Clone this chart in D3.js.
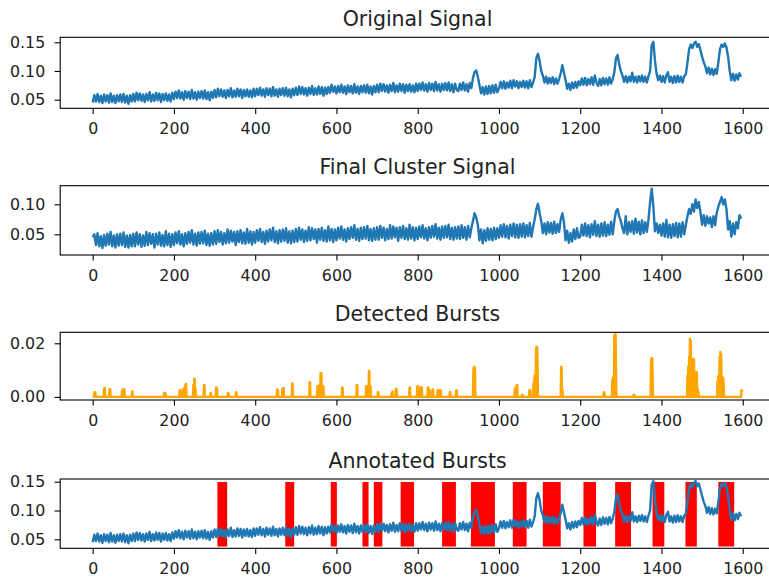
<!DOCTYPE html>
<html>
<head>
<meta charset="utf-8">
<script src="https://cdn.jsdelivr.net/npm/d3@7"></script>
<style>
body { margin: 0; background: #fff; }
svg { display: block; font-family: "DejaVu Sans", sans-serif; }
</style>
</head>
<body>
<svg width="769" height="580"></svg>
<script>
// sampled every 4 points (0, 4, ... 1596)
const originalSignal = [
0.045,0.058,0.047,0.060,0.046,0.057,0.044,0.059,0.047,0.058,0.045,0.061,0.046,0.057,0.044,0.058,0.047,0.059,0.046,0.060,0.045,0.057,0.043,0.058,0.047,
0.060,0.047,0.062,0.049,0.061,0.048,0.059,0.046,0.060,0.049,0.063,0.047,0.059,0.048,0.062,0.049,0.061,0.046,0.060,0.049,0.061,0.048,0.059,0.047,0.062,
0.051,0.064,0.053,0.066,0.052,0.063,0.050,0.065,0.053,0.064,0.051,0.067,0.052,0.063,0.050,0.064,0.053,0.065,0.052,0.066,0.051,0.063,0.049,0.064,0.053,
0.067,0.054,0.069,0.056,0.068,0.055,0.066,0.053,0.067,0.056,0.070,0.054,0.066,0.055,0.069,0.056,0.068,0.053,0.067,0.056,0.068,0.055,0.066,0.054,0.069,
0.056,0.069,0.058,0.071,0.057,0.068,0.055,0.070,0.058,0.069,0.056,0.072,0.057,0.068,0.055,0.069,0.058,0.070,0.057,0.071,0.056,0.068,0.054,0.069,0.058,
0.071,0.058,0.073,0.060,0.072,0.059,0.070,0.057,0.071,0.060,0.074,0.058,0.070,0.059,0.073,0.060,0.072,0.057,0.071,0.060,0.072,0.062,0.076,0.064,0.073,
0.061,0.074,0.063,0.076,0.062,0.073,0.060,0.075,0.063,0.074,0.061,0.077,0.062,0.073,0.060,0.074,0.063,0.075,0.062,0.076,0.061,0.073,0.059,0.074,0.063,
0.076,0.063,0.078,0.065,0.077,0.064,0.075,0.062,0.076,0.065,0.079,0.063,0.075,0.064,0.078,0.065,0.077,0.062,0.076,0.065,0.077,0.064,0.075,0.063,0.078,
0.065,0.078,0.067,0.080,0.066,0.077,0.064,0.079,0.067,0.078,0.065,0.081,0.066,0.077,0.064,0.078,0.067,0.079,0.066,0.080,0.065,0.077,0.063,0.078,0.067,
0.065,0.078,0.067,0.080,0.066,0.077,0.064,0.079,0.070,0.088,0.098,0.101,0.090,0.075,0.061,0.072,0.059,0.073,0.060,0.074,0.061,0.075,0.062,0.076,0.063,
0.069,0.081,0.070,0.082,0.069,0.080,0.071,0.083,0.070,0.084,0.073,0.082,0.070,0.081,0.072,0.083,0.071,0.082,0.070,0.084,0.072,0.080,0.090,0.122,0.130,
0.118,0.100,0.092,0.080,0.090,0.078,0.088,0.079,0.089,0.077,0.087,0.078,0.086,0.096,0.110,0.097,0.084,0.069,0.078,0.067,0.080,0.070,0.081,0.071,0.082,
0.075,0.087,0.076,0.088,0.075,0.086,0.077,0.089,0.076,0.092,0.080,0.074,0.086,0.075,0.088,0.077,0.087,0.076,0.089,0.078,0.086,0.098,0.122,0.128,0.112,
0.100,0.092,0.081,0.091,0.080,0.090,0.082,0.097,0.081,0.090,0.080,0.091,0.082,0.092,0.081,0.090,0.080,0.091,0.100,0.145,0.151,0.118,0.095,0.084,0.092,
0.081,0.091,0.080,0.092,0.098,0.081,0.090,0.079,0.091,0.080,0.092,0.081,0.090,0.080,0.091,0.094,0.115,0.138,0.146,0.140,0.148,0.151,0.142,0.147,0.136,
0.125,0.115,0.108,0.096,0.106,0.094,0.104,0.093,0.103,0.095,0.115,0.138,0.146,0.142,0.148,0.141,0.125,0.100,0.084,0.095,0.083,0.094,0.085,0.096,0.090
];

const clusterSignal = [
0.045,0.050,0.032,0.052,0.030,0.047,0.027,0.049,0.031,0.051,0.033,0.054,0.030,0.048,0.028,0.050,0.031,0.051,0.032,0.053,0.029,0.048,0.028,0.049,0.030,
0.051,0.030,0.053,0.033,0.050,0.029,0.048,0.031,0.054,0.032,0.052,0.034,0.050,0.028,0.051,0.033,0.053,0.031,0.049,0.030,0.055,0.032,0.051,0.029,0.050,
0.032,0.053,0.035,0.055,0.033,0.050,0.030,0.052,0.034,0.054,0.036,0.057,0.033,0.051,0.031,0.053,0.034,0.054,0.035,0.056,0.032,0.051,0.031,0.052,0.033,
0.055,0.034,0.057,0.037,0.054,0.033,0.052,0.035,0.058,0.036,0.056,0.038,0.054,0.032,0.055,0.037,0.057,0.035,0.053,0.034,0.059,0.036,0.055,0.033,0.054,
0.036,0.057,0.039,0.059,0.037,0.054,0.034,0.056,0.038,0.058,0.040,0.061,0.037,0.055,0.035,0.057,0.038,0.058,0.039,0.060,0.036,0.055,0.035,0.056,0.037,
0.059,0.038,0.061,0.041,0.058,0.037,0.056,0.039,0.062,0.040,0.060,0.042,0.058,0.036,0.059,0.041,0.061,0.039,0.057,0.038,0.063,0.040,0.059,0.037,0.058,
0.040,0.061,0.043,0.063,0.041,0.058,0.038,0.060,0.042,0.062,0.044,0.065,0.041,0.059,0.039,0.061,0.042,0.062,0.043,0.064,0.040,0.059,0.039,0.060,0.041,
0.062,0.041,0.064,0.044,0.061,0.040,0.059,0.042,0.065,0.043,0.063,0.045,0.061,0.039,0.062,0.044,0.064,0.042,0.060,0.041,0.066,0.043,0.062,0.040,0.061,
0.042,0.063,0.045,0.065,0.043,0.060,0.040,0.062,0.044,0.064,0.046,0.067,0.043,0.061,0.041,0.063,0.044,0.064,0.045,0.066,0.042,0.061,0.041,0.062,0.043,
0.063,0.042,0.065,0.044,0.062,0.041,0.064,0.045,0.060,0.072,0.085,0.078,0.066,0.040,0.058,0.035,0.057,0.039,0.060,0.041,0.059,0.040,0.061,0.042,0.060,
0.044,0.065,0.046,0.067,0.045,0.064,0.043,0.066,0.047,0.068,0.045,0.066,0.044,0.067,0.046,0.068,0.045,0.065,0.047,0.069,0.046,0.062,0.075,0.092,0.101,
0.086,0.072,0.052,0.068,0.050,0.070,0.053,0.069,0.051,0.071,0.052,0.067,0.054,0.074,0.085,0.070,0.040,0.056,0.036,0.052,0.038,0.058,0.042,0.060,0.044,
0.046,0.066,0.048,0.068,0.047,0.065,0.045,0.067,0.049,0.072,0.047,0.066,0.046,0.068,0.048,0.070,0.047,0.066,0.049,0.071,0.050,0.072,0.088,0.092,0.080,
0.072,0.060,0.052,0.080,0.050,0.070,0.054,0.072,0.051,0.076,0.053,0.071,0.050,0.073,0.052,0.070,0.054,0.074,0.104,0.126,0.096,0.055,0.068,0.052,0.066,
0.048,0.068,0.046,0.074,0.045,0.066,0.044,0.067,0.047,0.069,0.045,0.068,0.046,0.070,0.050,0.066,0.080,0.092,0.084,0.100,0.088,0.108,0.094,0.104,0.086,
0.066,0.082,0.064,0.080,0.068,0.078,0.062,0.080,0.065,0.086,0.096,0.104,0.112,0.100,0.108,0.092,0.058,0.072,0.046,0.068,0.050,0.070,0.060,0.082,0.076
];

// burst strength: [sample index, value], every other sample of 0..1599 is 0
const burstPoints = [
[4,0.0012],[5,0.0018],[6,0.0018],[7,0.0010],
[28,0.0030],[29,0.0033],[30,0.0033],
[41,0.0025],[42,0.0030],[43,0.0030],
[72,0.0022],[74,0.0028],[76,0.0030],[78,0.0028],
[97,0.0020],[98,0.0020],
[176,0.0015],[178,0.0015],[180,0.0010],
[214,0.0025],[215,0.0025],
[222,0.0030],[227,0.0040],[229,0.0048],[230,0.0048],
[248,0.0045],[250,0.0068],[251,0.0068],[253,0.0030],
[274,0.0045],[275,0.0045],
[290,0.0015],[291,0.0015],
[304,0.0035],[305,0.0035],[306,0.0030],
[333,0.0015],[335,0.0012],
[353,0.0018],[354,0.0018],
[454,0.0028],[456,0.0025],
[467,0.0030],[469,0.0033],[470,0.0033],
[491,0.0050],[492,0.0050],
[534,0.0055],[535,0.0055],
[553,0.0040],[555,0.0040],[558,0.0045],[561,0.0088],[563,0.0088],[566,0.0040],[568,0.0040],
[614,0.0035],[615,0.0035],
[650,0.0045],[651,0.0045],
[673,0.0040],[676,0.0040],[680,0.0097],[681,0.0097],[684,0.0040],
[702,0.0018],[703,0.0018],
[736,0.0015],[738,0.0020],
[746,0.0030],[748,0.0030],
[780,0.0035],[781,0.0035],
[799,0.0040],[800,0.0040],[803,0.0035],[808,0.0035],[810,0.0035],
[825,0.0035],[826,0.0035],[830,0.0025],
[837,0.0028],[838,0.0028],
[849,0.0025],[851,0.0025],[855,0.0025],[857,0.0025],
[879,0.0018],[880,0.0018],
[895,0.0025],[896,0.0025],
[937,0.0095],[938,0.0110],[940,0.0112],[941,0.0105],
[1039,0.0030],[1041,0.0036],[1044,0.0045],[1045,0.0045],
[1057,0.0008],[1058,0.0008],
[1075,0.0025],[1077,0.0025],
[1085,0.0050],[1087,0.0065],[1088,0.0080],[1091,0.0140],[1092,0.0186],[1094,0.0186],[1095,0.0120],
[1153,0.0112],[1154,0.0112],[1156,0.0030],[1157,0.0010],
[1258,0.0018],[1259,0.0018],[1260,0.0010],
[1279,0.0065],[1281,0.0074],[1284,0.0230],[1286,0.0234],[1287,0.0234],[1288,0.0100],
[1332,0.0008],[1333,0.0008],
[1374,0.0100],[1375,0.0144],[1377,0.0144],[1378,0.0100],
[1464,0.0080],[1466,0.0113],[1468,0.0150],[1470,0.0217],[1472,0.0210],[1474,0.0120],[1477,0.0142],[1480,0.0142],[1482,0.0090],[1485,0.0092],[1487,0.0092],[1489,0.0030],[1491,0.0020],
[1538,0.0060],[1540,0.0077],[1543,0.0150],[1545,0.0168],[1547,0.0160],[1549,0.0075],[1552,0.0072],[1553,0.0040],
[1597,0.0025],[1598,0.0025],[1599,0.0020]
];

// annotated burst ranges [start, end] and their vertical extent
const burstSpans = [
[307,331],[474,496],[586,601],[664,679],[692,713],[758,791],[860,894],[931,990],
[1034,1068],[1108,1152],[1208,1239],[1286,1325],[1378,1407],[1459,1487],[1540,1579]
];
const spanLow = 0.0375, spanHigh = 0.1495;

const xTicks = [0, 200, 400, 600, 800, 1000, 1200, 1400, 1600];
const titles = ["Original Signal", "Final Cluster Signal", "Detected Bursts", "Annotated Bursts"];

const step = 4;
const nSamples = 1600;

var burstSeries = new Array(nSamples).fill(0);
burstPoints.forEach(p => { burstSeries[p[0]] = p[1] });

const svg = d3.select("svg");

var x = d3.scaleLinear().domain([-79.95, 1678.95]).range([60.2, 774.8]);

const panels = [
    {title: titles[0], top: 37.3, bottom: 108.3, ylim: [0.035, 0.1587], yTicks: [0.05, 0.10, 0.15]},
    {title: titles[1], top: 185.7, bottom: 255, ylim: [0.0155, 0.131], yTicks: [0.05, 0.10]},
    {title: titles[2], top: 332.3, bottom: 400, ylim: [-0.00115, 0.0241], yTicks: [0.00, 0.02]},
    {title: titles[3], top: 479, bottom: 548.3, ylim: [0.0344, 0.1547], yTicks: [0.05, 0.10, 0.15]}
];

const tickFont = "15.8px", titleFont = "20.5px", lw = 2.4;

function drawPanel(p, i) {
    var y = d3.scaleLinear().domain(p.ylim).range([p.bottom, p.top]);
    var g = svg.append("g").attr("class", "panel" + i);

    if (i == 3) {
        g.selectAll("rect.span")
        .data(burstSpans).enter()
        .append("rect")
        .attr("class", "span")
        .attr("x", d => x(d[0]))
        .attr("width", d => x(d[1]) - x(d[0]))
        .attr("y", y(spanHigh))
        .attr("height", y(spanLow) - y(spanHigh))
        .attr("fill", "red")
    }

    var line = d3.line()
    .x(d => x(d[0]))
    .y(d => y(d[1]));

    var pts, color;
    if (i == 0 || i == 3) {
        pts = originalSignal.map((v, k) => [k * step, v]);
        color = "#1f77b4";
    } else if (i == 1) {
        pts = clusterSignal.map((v, k) => [k * step, v]);
        color = "#1f77b4";
    } else {
        pts = burstSeries.map((v, k) => [k, v]);
        color = "orange";
    }

    g.append("path")
    .datum(pts)
    .attr("d", line)
    .attr("fill", "none")
    .attr("stroke", color)
    .attr("stroke-width", lw)
    .attr("stroke-linejoin", "round")

    // spines
    g.append("rect")
    .attr("x", x.range()[0])
    .attr("y", p.top)
    .attr("width", x.range()[1] - x.range()[0])
    .attr("height", p.bottom - p.top)
    .attr("fill", "none")
    .attr("stroke", "#000")
    .attr("stroke-width", 1.1)

    var xAxis = g.append("g")
    .attr("transform", "translate(0," + p.bottom + ")")
    .call(d3.axisBottom(x).tickValues(xTicks).tickSize(5.6).tickSizeOuter(0).tickFormat(d3.format("d")));
    xAxis.select(".domain").remove();
    xAxis.selectAll("line").attr("stroke", "#000").attr("stroke-width", 1.1);
    xAxis.selectAll("text").attr("y", 26).attr("dy", null)
    .style("font-size", tickFont).style("font-family", "DejaVu Sans").attr("fill", "#222");

    var yAxis = g.append("g")
    .attr("transform", "translate(" + x.range()[0] + ",0)")
    .call(d3.axisLeft(y).tickValues(p.yTicks).tickSize(5.6).tickPadding(9.4).tickSizeOuter(0).tickFormat(d3.format(".2f")));
    yAxis.select(".domain").remove();
    yAxis.selectAll("line").attr("stroke", "#000").attr("stroke-width", 1.1);
    yAxis.selectAll("text").attr("dy", "0.32em")
    .style("font-size", tickFont).style("font-family", "DejaVu Sans").attr("fill", "#222");

    g.append("text")
    .attr("x", (x.range()[0] + x.range()[1]) / 2)
    .attr("y", p.top - 11.3)
    .attr("text-anchor", "middle")
    .style("font-size", titleFont)
    .attr("fill", "#222")
    .text(p.title)
}

panels.forEach(drawPanel);
</script>
</body>
</html>
